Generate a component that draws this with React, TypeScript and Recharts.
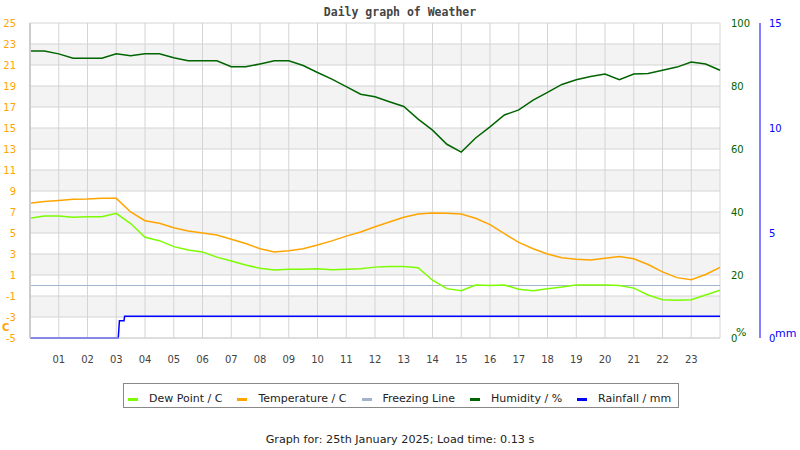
import React from "react";
import { LineChart, Line, XAxis, YAxis, CartesianGrid } from "recharts";

// half-hour readings, 00:00 .. 24:00
const hours = [
  0, 0.5, 1, 1.5, 2, 2.5, 3, 3.5, 4, 4.5, 5, 5.5, 6, 6.5, 7, 7.5, 8, 8.5, 9, 9.5,
  10, 10.5, 11, 11.5, 12, 12.5, 13, 13.5, 14, 14.5, 15, 15.5, 16, 16.5, 17, 17.5,
  18, 18.5, 19, 19.5, 20, 20.5, 21, 21.5, 22, 22.5, 23, 23.5, 24,
];
const temperature = [
  7.83, 8.0, 8.1, 8.22, 8.24, 8.3, 8.3, 7.0, 6.17, 5.92, 5.5, 5.2, 5.0, 4.8, 4.4,
  4.0, 3.5, 3.2, 3.3, 3.5, 3.85, 4.25, 4.7, 5.1, 5.6, 6.05, 6.5, 6.8, 6.9, 6.87,
  6.8, 6.4, 5.8, 4.95, 4.1, 3.5, 3.0, 2.65, 2.5, 2.43, 2.6, 2.75, 2.55, 2.0, 1.3,
  0.75, 0.55, 1.05, 1.73,
];
const dewPoint = [
  6.4, 6.62, 6.62, 6.5, 6.55, 6.55, 6.87, 5.9, 4.6, 4.27, 3.7, 3.38, 3.2, 2.7,
  2.33, 1.95, 1.64, 1.48, 1.55, 1.55, 1.6, 1.5, 1.55, 1.6, 1.75, 1.8, 1.8, 1.7,
  0.5, -0.3, -0.5, 0.05, 0.0, 0.05, -0.35, -0.5, -0.3, -0.15, 0.05, 0.05, 0.05,
  0.0, -0.25, -0.9, -1.35, -1.4, -1.35, -0.9, -0.45,
];
const humidity = [
  91.1, 91.1, 90.2, 88.8, 88.8, 88.8, 90.2, 89.6, 90.2, 90.2, 89.0, 88.0, 88.0,
  88.0, 86.1, 86.1, 87.0, 88.0, 88.0, 86.5, 84.3, 82.2, 79.8, 77.4, 76.6, 75.0,
  73.5, 69.5, 66.0, 61.5, 59.0, 63.5, 67.0, 70.8, 72.4, 75.5, 78.0, 80.5, 82.0,
  83.0, 83.8, 82.0, 83.8, 84.0, 85.0, 86.0, 87.6, 87.0, 85.0,
];
const rainHours = [0, 3.07, 3.11, 3.27, 3.29, 24];
const rainfall = [0, 0, 0.82, 0.82, 1.03, 1.03];
const freezingHours = [0, 24];
const freezing = [0, 0];

const hourTicks = Array.from({ length: 25 }, (_, i) => i);
const tempTicks = [-5, -3, -1, 1, 3, 5, 7, 9, 11, 13, 15, 17, 19, 21, 23, 25];
const humidityTicks = [0, 20, 40, 60, 80, 100];
const rainTicks = [0, 5, 10, 15];

const rows = hours.map((t, i) => ({
  t,
  temp: temperature[i],
  dew: dewPoint[i],
  hum: humidity[i],
}));
const rainRows = rainHours.map((t, i) => ({ t, rain: rainfall[i] }));
const freezeRows = freezingHours.map((t, i) => ({ t, freeze: freezing[i] }));

const legendItems = [
  { name: "Dew Point / C", color: "#7cfc00" },
  { name: "Temperature / C", color: "#ffa500" },
  { name: "Freezing Line", color: "#a3b3cc" },
  { name: "Humidity / %", color: "#006400" },
  { name: "Rainfall / mm", color: "#0000ff" },
];

const pad = (h: number) => (h === 0 || h === 24 ? "" : String(h).padStart(2, "0"));

export default function App() {
  return (
    <div
      style={{
        position: "absolute",
        left: 0,
        top: 0,
        width: 800,
        height: 450,
        background: "#fff",
        fontFamily: "DejaVu Sans",
      }}
    >
      <div
        style={{
          position: "absolute",
          top: 5,
          width: 800,
          textAlign: "center",
          fontFamily: "DejaVu Sans Mono",
          fontWeight: "bold",
          fontSize: 11.5,
          color: "#444",
        }}
      >
        Daily graph of Weather
      </div>

      <LineChart
        width={800}
        height={370}
        data={rows}
        margin={{ top: 23, right: 0, bottom: 0, left: 0 }}
      >
        <CartesianGrid
          yAxisId="t"
          stroke="#d4d4d4"
          horizontalFill={["#ffffff", "#f3f3f3"]}
          fillOpacity={1}
        />
        <XAxis
          type="number"
          dataKey="t"
          domain={[0, 24]}
          ticks={hourTicks}
          tickFormatter={pad}
          height={32}
          tickLine={false}
          axisLine={{ stroke: "#d4d4d4" }}
          tickMargin={12}
          tick={{ fill: "#444", fontSize: 10 }}
          interval={0}
        />
        <YAxis
          yAxisId="t"
          domain={[-5, 25]}
          ticks={tempTicks}
          width={30}
          tickLine={false}
          axisLine={{ stroke: "#cccccc", strokeWidth: 2 }}
          tickMargin={8}
          tick={{ fill: "#ffa500", fontSize: 10 }}
          interval={0}
        />
        <YAxis
          yAxisId="h"
          orientation="right"
          domain={[0, 100]}
          ticks={humidityTicks}
          width={40}
          tickLine={false}
          axisLine={false}
          tickMargin={5}
          tick={{ fill: "#006400", fontSize: 10 }}
          interval={0}
        />
        <YAxis
          yAxisId="r"
          orientation="right"
          domain={[0, 15]}
          ticks={rainTicks}
          width={40}
          tickLine={false}
          axisLine={{ stroke: "#0000ff" }}
          tickMargin={3}
          tick={{ fill: "#0000ff", fontSize: 10 }}
          interval={0}
        />
        <Line
          yAxisId="t"
          data={freezeRows}
          dataKey="freeze"
          stroke="#a3b3cc"
          strokeWidth={1}
          dot={false}
          isAnimationActive={false}
        />
        <Line
          yAxisId="h"
          dataKey="hum"
          stroke="#006400"
          strokeWidth={1.5}
          dot={false}
          isAnimationActive={false}
        />
        <Line
          yAxisId="t"
          dataKey="temp"
          stroke="#ffa500"
          strokeWidth={1.5}
          dot={false}
          isAnimationActive={false}
        />
        <Line
          yAxisId="t"
          dataKey="dew"
          stroke="#7cfc00"
          strokeWidth={1.5}
          dot={false}
          isAnimationActive={false}
        />
        <Line
          yAxisId="r"
          data={rainRows}
          dataKey="rain"
          stroke="#0000ff"
          strokeWidth={1.5}
          dot={false}
          isAnimationActive={false}
        />
      </LineChart>

      <div
        style={{
          position: "absolute",
          left: 2,
          top: 322,
          lineHeight: "11px",
          color: "#ffa500",
          fontWeight: "bold",
          fontSize: 10,
        }}
      >
        C
      </div>
      <div style={{ position: "absolute", left: 736, top: 326, color: "#006400", fontSize: 11 }}>%</div>
      <div style={{ position: "absolute", left: 775, top: 327, color: "#0000ff", fontSize: 11 }}>mm</div>

      <div
        style={{
          position: "absolute",
          left: 123,
          top: 383,
          width: 550,
          height: 18,
          border: "1px solid #888",
          display: "flex",
          alignItems: "center",
          paddingLeft: 4,
          paddingTop: 5,
          boxSizing: "content-box",
          fontSize: 11,
          color: "#222",
          gap: 15,
          whiteSpace: "nowrap",
        }}
      >
        {legendItems.map((it) => (
          <div key={it.name} style={{ display: "flex", alignItems: "center", gap: 11 }}>
            <span
              style={{ display: "inline-block", width: 10, height: 3, marginTop: 3, background: it.color }}
            />
            <span>{it.name}</span>
          </div>
        ))}
      </div>

      <div
        style={{
          position: "absolute",
          top: 433,
          width: 800,
          textAlign: "center",
          fontSize: 11.2,
          color: "#222",
        }}
      >
        Graph for: 25th January 2025; Load time: 0.13 s
      </div>
    </div>
  );
}
